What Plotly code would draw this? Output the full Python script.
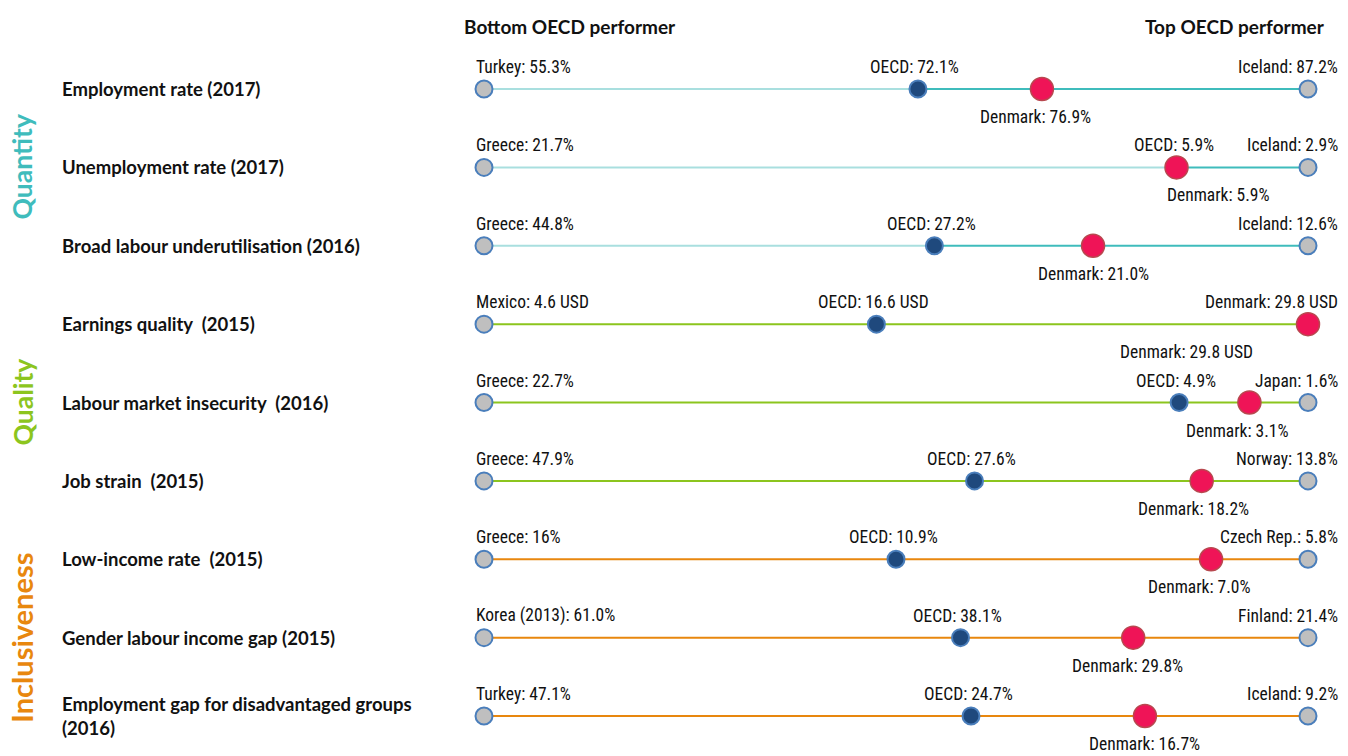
import plotly.graph_objects as go

# ---------------- data ----------------
indicators = [
    "Employment rate (2017)",
    "Unemployment rate (2017)",
    "Broad labour underutilisation (2016)",
    "Earnings quality  (2015)",
    "Labour market insecurity  (2016)",
    "Job strain  (2015)",
    "Low-income rate  (2015)",
    "Gender labour income gap (2015)",
    "Employment gap for disadvantaged groups<br>(2016)",
]
groups = ["Quantity"] * 3 + ["Quality"] * 3 + ["Inclusiveness"] * 3
units = ["%", "%", "%", " USD", "%", "%", "%", "%", "%"]

bottom_country = ["Turkey", "Greece", "Greece", "Mexico", "Greece", "Greece", "Greece", "Korea (2013)", "Turkey"]
bottom_value = [55.3, 21.7, 44.8, 4.6, 22.7, 47.9, 16.0, 61.0, 47.1]
bottom_decimals = [1, 1, 1, 1, 1, 1, 0, 1, 1]

top_country = ["Iceland", "Iceland", "Iceland", "Denmark", "Japan", "Norway", "Czech Rep.", "Finland", "Iceland"]
top_value = [87.2, 2.9, 12.6, 29.8, 1.6, 13.8, 5.8, 21.4, 9.2]

oecd_value = [72.1, 5.9, 27.2, 16.6, 4.9, 27.6, 10.9, 38.1, 24.7]
denmark_value = [76.9, 5.9, 21.0, 29.8, 3.1, 18.2, 7.0, 29.8, 16.7]

# ---------------- styles ----------------
group_colors = {"Quantity": "#3fbcbc", "Quality": "#8cc51e", "Inclusiveness": "#e8870e"}
group_light = {"Quantity": "#a9dfdf", "Quality": "#8cc51e", "Inclusiveness": "#e8870e"}
group_font_size = {"Quantity": 26.5, "Quality": 26.5, "Inclusiveness": 29}
denmark_label_xshift = [-6, 42, 0, -122, -12, -8, -12, -6, 0]

W, H = 1348, 756
X0, X1 = 484, 1308          # pixel positions of bottom / top performers
Y0, Y8 = 89, 716            # pixel positions of first / last row
n = len(indicators)
px_per_x = X1 - X0
px_per_y = (Y8 - Y0) / (n - 1)
x_range = [-X0 / px_per_x, 1 + (W - X1) / px_per_x]
y_range = [-(n - 1) - (H - Y8) / px_per_y, Y0 / px_per_y]

VAL_FONT = dict(family="Liberation Sans Narrow, Arial Narrow, Roboto Condensed, Liberation Sans, Arial", size=17.5, color="#111111")
LBL_FONT = dict(family="Lato, Carlito, Calibri, Open Sans, sans-serif", size=18.5, color="#111111", weight="bold")
HDR_FONT = dict(family="Lato, Carlito, Calibri, Open Sans, sans-serif", size=19, color="#111111", weight="bold")


def fmt(v, d=1):
    return f"{v:.{d}f}"


def norm(v, lo, hi):
    return (v - lo) / (hi - lo)


fig = go.Figure()
ann = []

for i in range(n):
    y = -i
    g = groups[i]
    lo, hi = bottom_value[i], top_value[i]
    xo = norm(oecd_value[i], lo, hi)
    xd = norm(denmark_value[i], lo, hi)

    # line segments
    fig.add_trace(go.Scatter(x=[0, xo], y=[y, y], mode="lines",
                             line=dict(color=group_light[g], width=2), hoverinfo="skip", showlegend=False))
    fig.add_trace(go.Scatter(x=[xo, 1], y=[y, y], mode="lines",
                             line=dict(color=group_colors[g], width=2), hoverinfo="skip", showlegend=False))
    # bottom / top performers
    fig.add_trace(go.Scatter(x=[0, 1], y=[y, y], mode="markers",
                             marker=dict(size=17, color="#bfbfbf", line=dict(color="#4a7ebb", width=2)),
                             showlegend=False))
    # OECD
    fig.add_trace(go.Scatter(x=[xo], y=[y], mode="markers",
                             marker=dict(size=17, color="#1f497d", line=dict(color="#4a7ebb", width=2)),
                             showlegend=False))
    # Denmark
    fig.add_trace(go.Scatter(x=[xd], y=[y], mode="markers",
                             marker=dict(size=23, color="#ef1457", line=dict(color="#b8484f", width=1.5)),
                             showlegend=False))

    u = units[i]
    ann.append(dict(x=0, y=y, xref="x", yref="y", xanchor="left", yanchor="bottom",
                    xshift=-10, yshift=10, showarrow=False, font=VAL_FONT,
                    text=f"{bottom_country[i]}: {fmt(lo, bottom_decimals[i])}{u}"))
    ann.append(dict(x=1, y=y, xref="x", yref="y", xanchor="right", yanchor="bottom",
                    xshift=32, yshift=10, showarrow=False, font=VAL_FONT,
                    text=f"{top_country[i]}: {fmt(hi)}{u}"))
    ann.append(dict(x=xo, y=y, xref="x", yref="y", xanchor="center", yanchor="bottom",
                    xshift=-3, yshift=10, showarrow=False, font=VAL_FONT,
                    text=f"OECD: {fmt(oecd_value[i])}{u}"))
    ann.append(dict(x=xd, y=y, xref="x", yref="y", xanchor="center", yanchor="top",
                    xshift=denmark_label_xshift[i], yshift=-16, showarrow=False, font=VAL_FONT,
                    text=f"Denmark: {fmt(denmark_value[i])}{u}"))
    # indicator label
    ann.append(dict(x=60 / W, y=y, xref="paper", yref="y", xanchor="left", yanchor="middle",
                    showarrow=False, align="left", font=LBL_FONT, text=indicators[i]))

# group labels (vertical)
for g in ["Quantity", "Quality", "Inclusiveness"]:
    idx = [i for i in range(n) if groups[i] == g]
    mid = -(idx[0] + idx[-1]) / 2
    ann.append(dict(x=22 / W, y=mid, xref="paper", yref="y", xanchor="center", yanchor="middle",
                    textangle=-90, showarrow=False, text=g,
                    font=dict(family="Lato, Open Sans, sans-serif", size=group_font_size[g],
                              color=group_colors[g], weight="bold")))

# headers
ann.append(dict(x=0, y=1 - 27 / H, xref="x", yref="paper", xanchor="center", yanchor="middle",
                xshift=86, showarrow=False, text="Bottom OECD performer", font=HDR_FONT))
ann.append(dict(x=1, y=1 - 27 / H, xref="x", yref="paper", xanchor="center", yanchor="middle",
                xshift=-73, showarrow=False, text="Top OECD performer", font=HDR_FONT))

fig.update_layout(
    width=W, height=H,
    margin=dict(l=0, r=0, t=0, b=0),
    paper_bgcolor="white", plot_bgcolor="white",
    xaxis=dict(range=x_range, visible=False, fixedrange=True),
    yaxis=dict(range=y_range, visible=False, fixedrange=True),
    annotations=ann,
    showlegend=False,
)

fig.write_html("out.html", config={"displayModeBar": False},
               post_script="document.body.style.margin='0';")
